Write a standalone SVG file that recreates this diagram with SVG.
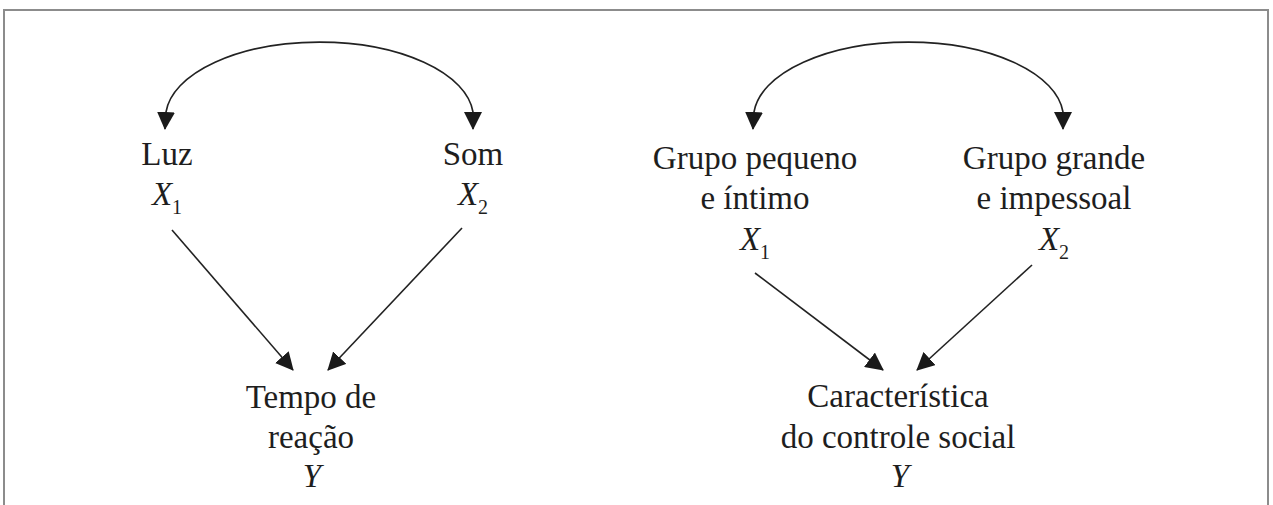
<svg xmlns="http://www.w3.org/2000/svg" width="1273" height="505" viewBox="0 0 1273 505">
  <style>
    .t { font-family: 'Liberation Serif', 'DejaVu Serif', serif; font-size: 33px; fill: #1e1e1e; text-anchor: middle; }
    .v { font-style: italic; }
    .s { font-style: normal; font-size: 20px; }
    .c { fill: none; stroke: #222; stroke-width: 1.6; }
  </style>
  <defs>
    <marker id="arr" markerUnits="userSpaceOnUse" viewBox="0 0 18 18" markerWidth="18" markerHeight="18" refX="17" refY="9" orient="auto-start-reverse">
      <path d="M0,0 L18,9 L0,18 Z" fill="#1a1a1a"/>
    </marker>
  </defs>
  <rect width="1273" height="505" fill="#ffffff"/>
  <path d="M4,505 V10 H1268 V505" fill="none" stroke="#8c8c8c" stroke-width="2"/>

  <g id="connectors">
    <path class="c" d="M165,129 L166,112 A154 76 0 0 1 473,112 L473,129" marker-start="url(#arr)" marker-end="url(#arr)"/>
    <path class="c" d="M172,230 L293,370" marker-end="url(#arr)"/>
    <path class="c" d="M462,228 L328,370" marker-end="url(#arr)"/>
    <path class="c" d="M753,129 L754,112 A155 76 0 0 1 1063,112 L1063,129" marker-start="url(#arr)" marker-end="url(#arr)"/>
    <path class="c" d="M755,273 L883,370" marker-end="url(#arr)"/>
    <path class="c" d="M1032,265 L917,370" marker-end="url(#arr)"/>
  </g>

  <g id="luz" font-family="Liberation Serif, serif">
    <text class="t" x="167" y="165">Luz</text>
    <text class="t v" x="167" y="205">X<tspan class="s" dy="9">1</tspan></text>
  </g>
  <g id="som">
    <text class="t" x="473" y="165">Som</text>
    <text class="t v" x="473" y="205">X<tspan class="s" dy="9">2</tspan></text>
  </g>
  <g id="tempo">
    <text class="t" x="311" y="408">Tempo de</text>
    <text class="t" x="311" y="448">reação</text>
    <text class="t v" x="312" y="487">Y</text>
  </g>
  <g id="grupo-pequeno">
    <text class="t" x="755" y="169">Grupo pequeno</text>
    <text class="t" x="755" y="209">e íntimo</text>
    <text class="t v" x="755" y="250">X<tspan class="s" dy="9">1</tspan></text>
  </g>
  <g id="grupo-grande">
    <text class="t" x="1054" y="169">Grupo grande</text>
    <text class="t" x="1054" y="209">e impessoal</text>
    <text class="t v" x="1054" y="250">X<tspan class="s" dy="9">2</tspan></text>
  </g>
  <g id="caracteristica">
    <text class="t" x="898" y="407">Característica</text>
    <text class="t" x="898" y="448">do controle social</text>
    <text class="t v" x="900" y="487">Y</text>
  </g>
</svg>
